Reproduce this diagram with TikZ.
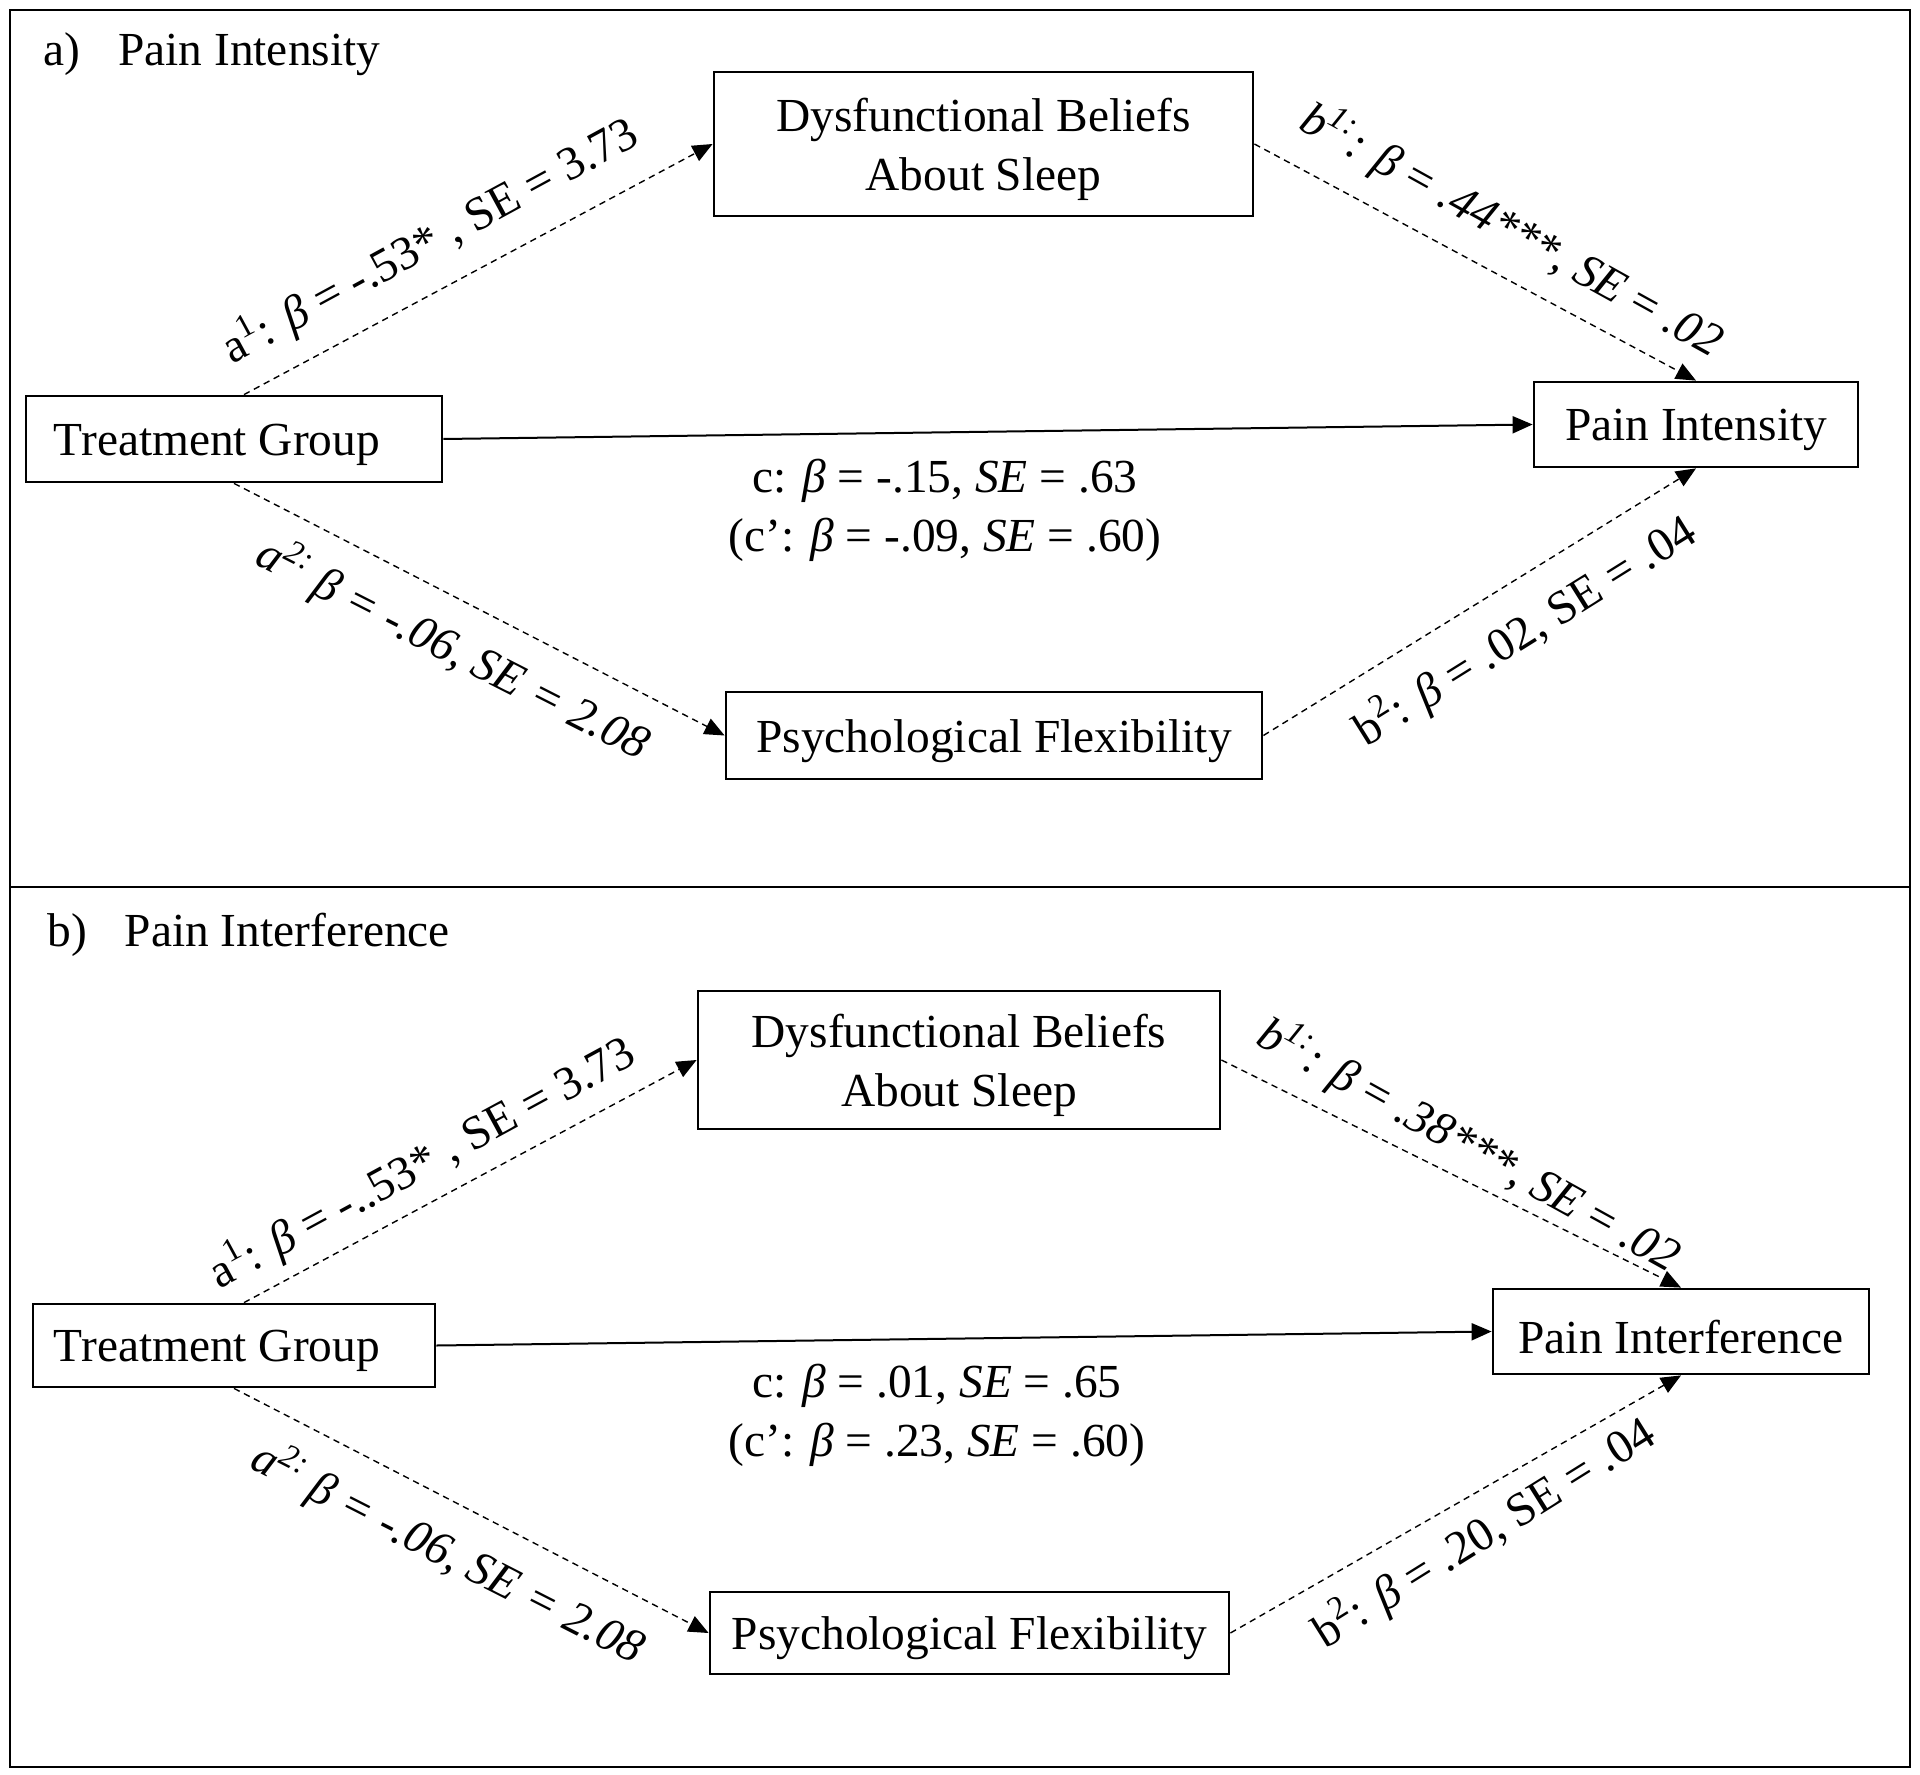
\documentclass[tikz,border=0pt]{standalone}
\usepackage{fontspec}
\setmainfont{Liberation Serif}
\usetikzlibrary{arrows.meta}
\newcommand{\lowtext}[1]{\raisebox{-2.7pt}[\height][\depth]{#1}}
\begin{document}
\begin{tikzpicture}[x=0.5pt,y=-0.5pt,
  every node/.style={font=\fontsize{23.7}{29.5}\selectfont},
  vbox/.style={draw, line width=1.4pt, inner sep=0pt, align=center},
  dasharrow/.style={line width=0.7pt, dash pattern=on 3.2pt off 2.4pt, -{Triangle[length=10pt,width=8.5pt]}},
  solidarrow/.style={line width=1pt, -{Triangle[length=10pt,width=8.5pt]}},
  lbl/.style={inner sep=0pt}
]
\useasboundingbox (0,0) rectangle (1920,1775);
% frame
\draw[line width=1.4pt] (10,10) rectangle (1910,1767);
\draw[line width=1.4pt] (10,887) -- (1910,887);

% ---------- panel a ----------
\node[lbl, anchor=west] (ta) at (43,54) {a)\hspace{19pt}Pain Intensity};
\node[vbox, minimum width=269.5pt, minimum height=72pt] (dbA) at (983.5,144) {\lowtext{\begin{tabular}{@{}c@{}}Dysfunctional Beliefs\\About Sleep\end{tabular}}};
\node[vbox, minimum width=208pt, minimum height=43pt] (tgA) at (234,439) {\lowtext{Treatment Group\hspace*{17pt}}};
\node[vbox, minimum width=162pt, minimum height=42.5pt] (piA) at (1696,424.5) {\lowtext{Pain Intensity}};
\node[vbox, minimum width=268pt, minimum height=43.5pt] (pfA) at (994,735.5) {\lowtext{Psychological Flexibility}};

\draw[dasharrow] ([xshift=5pt]tgA.north) -- (dbA.west);
\draw[dasharrow] (dbA.east) -- (piA.north);
\draw[dasharrow] (tgA.south) -- (pfA.west);
\draw[dasharrow] (pfA.east) -- (piA.south);
\draw[solidarrow] (tgA.east) -- (piA.west);

\node[lbl, rotate=28.5] (la1) at (430,241) {a\textsuperscript{1}: \textit{β} = -.53* , SE = 3.73};
\node[lbl, rotate=-29] (lb1) at (1512,230) {\textit{b\textsuperscript{1:}: β} = \textit{.44***}, \textit{SE} = \textit{.02}};
\node[lbl, rotate=-27] (la2) at (453,649) {\textit{a\textsuperscript{2:} β = -.06, SE = 2.08}};
\node[lbl, rotate=32] (lb2) at (1525,631) {b\textsuperscript{2}: \textit{β} = .02, SE = .04};
\node[lbl, align=center] (lcA) at (945,510) {c: \textit{β} = -.15, \textit{SE} = .63\\(c’: \textit{β} = -.09, \textit{SE} = .60)};

% ---------- panel b ----------
\node[lbl, anchor=west] (tb) at (47,935) {b)\hspace{19pt}Pain Interference};
\node[vbox, minimum width=261pt, minimum height=69pt] (dbB) at (959,1060) {\lowtext{\begin{tabular}{@{}c@{}}Dysfunctional Beliefs\\About Sleep\end{tabular}}};
\node[vbox, minimum width=201pt, minimum height=41.5pt] (tgB) at (234,1345.5) {\lowtext{Treatment Group\hspace*{17pt}}};
\node[vbox, minimum width=188pt, minimum height=42.5pt] (piB) at (1681,1331.5) {\lowtext{Pain Interference}};
\node[vbox, minimum width=259.5pt, minimum height=41pt] (pfB) at (969.5,1633) {\lowtext{Psychological Flexibility}};

\draw[dasharrow] ([xshift=5pt]tgB.north) -- (dbB.west);
\draw[dasharrow] (dbB.east) -- (piB.north);
\draw[dasharrow] (tgB.south) -- (pfB.west);
\draw[dasharrow] (pfB.east) -- (piB.south);
\draw[solidarrow] (tgB.east) -- (piB.west);

\node[lbl, rotate=28.5] (la1b) at (422,1163) {a\textsuperscript{1}: \textit{β} = -..53* , SE = 3.73};
\node[lbl, rotate=-29] (lb1b) at (1469,1145) {\textit{b\textsuperscript{1:}: β} = \textit{.38***}, \textit{SE} = \textit{.02}};
\node[lbl, rotate=-27] (la2b) at (448,1553) {\textit{a\textsuperscript{2:} β = -.06, SE = 2.08}};
\node[lbl, rotate=32] (lb2b) at (1484,1533) {b\textsuperscript{2}: \textit{β} = .20, SE = .04};
\node[lbl, align=center] (lcB) at (937,1415) {c: \textit{β} = .01, \textit{SE} = .65\\(c’: \textit{β} = .23, \textit{SE} = .60)};
\end{tikzpicture}
\end{document}
